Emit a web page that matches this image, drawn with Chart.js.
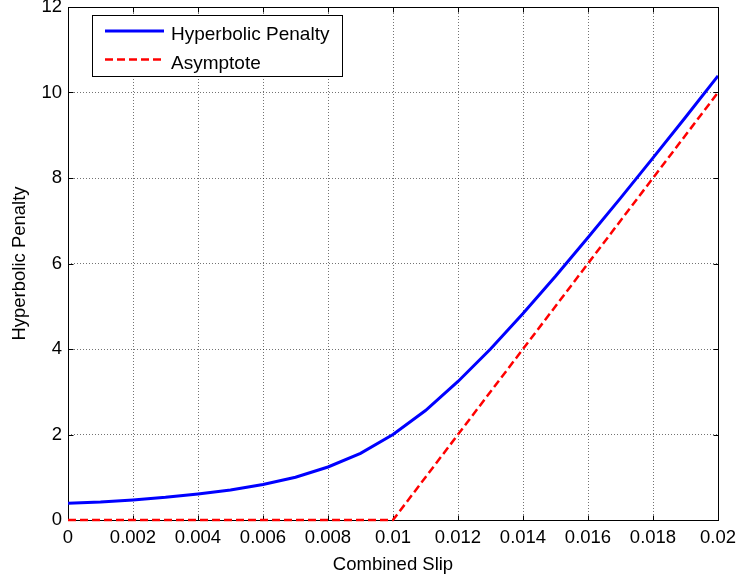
<!DOCTYPE html>
<html>
<head>
<meta charset="utf-8">
<title>Hyperbolic Penalty</title>
<script src="https://cdn.jsdelivr.net/npm/chart.js@4.4.1/dist/chart.umd.min.js"></script>
<style>
  html, body { margin: 0; padding: 0; background: #fff; }
  canvas { display: block; }
</style>
</head>
<body>
<canvas id="chart" width="738" height="579"></canvas>
<script>
// combined slip samples and the penalty curve
const slip = [0, 0.001, 0.002, 0.003, 0.004, 0.005, 0.006, 0.007, 0.008, 0.009, 0.01,
              0.011, 0.012, 0.013, 0.014, 0.015, 0.016, 0.017, 0.018, 0.019, 0.02]
const penalty = [0.39, 0.42, 0.47, 0.53, 0.61, 0.70, 0.83, 1.00, 1.24, 1.56, 2.00,
                 2.56, 3.24, 4.00, 4.83, 5.70, 6.61, 7.53, 8.47, 9.42, 10.39]

// asymptote: zero up to the threshold, then linear
const asymptoteSlip = [0, 0.01, 0.02]
const asymptote = [0, 0, 10]

const xTickLabels = ['0', '0.002', '0.004', '0.006', '0.008', '0.01',
                     '0.012', '0.014', '0.016', '0.018', '0.02']
const yTickLabels = ['0', '2', '4', '6', '8', '10', '12']

const FONT = "Arial, 'Liberation Sans', sans-serif"
Chart.defaults.font.family = FONT
Chart.defaults.color = '#000'

// box around the axes with inward tick marks on all four sides
const frame = {
  id: 'frame',
  beforeDatasetsDraw(chart) {
    const { ctx, chartArea: a, scales } = chart
    const L = Math.round(a.left) + 0.5, R = Math.round(a.right) + 0.5
    const T = Math.round(a.top) + 0.5, B = Math.round(a.bottom) + 0.5
    const len = 5
    ctx.save()
    ctx.strokeStyle = '#000'
    ctx.lineWidth = 1
    ctx.strokeRect(L, T, R - L, B - T)
    ctx.beginPath()
    scales.x.ticks.forEach(t => {
      const px = Math.round(scales.x.getPixelForValue(t.value)) + 0.5
      ctx.moveTo(px, B); ctx.lineTo(px, B - len)
      ctx.moveTo(px, T); ctx.lineTo(px, T + len)
    })
    scales.y.ticks.forEach(t => {
      const py = Math.round(scales.y.getPixelForValue(t.value)) + 0.5
      ctx.moveTo(L, py); ctx.lineTo(L + len, py)
      ctx.moveTo(R, py); ctx.lineTo(R - len, py)
    })
    ctx.stroke()
    ctx.restore()
  }
}

// legend box in the upper left corner of the plot
const insetLegend = {
  id: 'insetLegend',
  afterDatasetsDraw(chart) {
    const { ctx } = chart
    const box = { x: 92.5, y: 15.5, w: 250, h: 61 }
    ctx.save()
    ctx.fillStyle = '#fff'
    ctx.fillRect(box.x, box.y, box.w, box.h)
    ctx.strokeStyle = '#000'
    ctx.lineWidth = 1
    ctx.strokeRect(box.x, box.y, box.w, box.h)
    const rows = [31, 59.5]
    chart.data.datasets.forEach((ds, i) => {
      const y = rows[i]
      ctx.beginPath()
      ctx.strokeStyle = ds.borderColor
      ctx.lineWidth = ds.borderWidth
      ctx.setLineDash(ds.borderDash || [])
      ctx.moveTo(105, y)
      ctx.lineTo(164, y)
      ctx.stroke()
      ctx.setLineDash([])
      ctx.fillStyle = '#000'
      ctx.font = '19px ' + FONT
      ctx.textBaseline = 'alphabetic'
      ctx.textAlign = 'left'
      ctx.fillText(ds.label, 171, y + 9)
    })
    ctx.restore()
  }
}

new Chart(document.getElementById('chart'), {
  type: 'line',
  data: {
    datasets: [
      {
        label: 'Hyperbolic Penalty',
        data: slip.map((s, i) => ({ x: s, y: penalty[i] })),
        borderColor: '#0000ff',
        borderWidth: 3,
        pointRadius: 0,
        tension: 0,
        fill: false
      },
      {
        label: 'Asymptote',
        data: asymptoteSlip.map((s, i) => ({ x: s, y: asymptote[i] })),
        borderColor: '#ff0000',
        borderWidth: 2.5,
        borderDash: [8, 4],
        pointRadius: 0,
        tension: 0,
        fill: false,
        clip: false
      }
    ]
  },
  options: {
    responsive: false,
    animation: false,
    devicePixelRatio: 1,
    layout: { padding: { left: 0, top: 7, right: 20, bottom: 0 } },
    plugins: {
      legend: { display: false },
      tooltip: { enabled: false }
    },
    scales: {
      x: {
        type: 'linear',
        min: 0,
        max: 0.02,
        afterBuildTicks(scale) {
          scale.ticks = xTickLabels.map((_, i) => ({ value: i * 0.002 }))
        },
        afterFit(scale) {
          scale.height = 59
          scale.paddingLeft = 0
          scale.paddingRight = 0
        },
        grid: { color: 'rgba(0,0,0,0.55)', lineWidth: 1, drawTicks: false },
        border: { display: false, dash: [1, 2] },
        ticks: {
          padding: 7,
          maxRotation: 0,
          autoSkip: false,
          font: { size: 18.5 },
          callback: (v, i) => xTickLabels[i]
        },
        title: {
          display: true,
          text: 'Combined Slip',
          font: { size: 18.5 },
          padding: { top: 0, bottom: 2.6 }
        }
      },
      y: {
        min: 0,
        max: 12,
        afterBuildTicks(scale) {
          scale.ticks = yTickLabels.map(l => ({ value: Number(l) }))
        },
        afterFit(scale) {
          scale.width = 68
          scale.paddingTop = 0
          scale.paddingBottom = 0
        },
        grid: { color: 'rgba(0,0,0,0.55)', lineWidth: 1, drawTicks: false },
        border: { display: false, dash: [1, 2] },
        ticks: {
          padding: 6,
          font: { size: 18.5 },
          callback: (v, i) => yTickLabels[i]
        },
        title: {
          display: true,
          text: 'Hyperbolic Penalty',
          font: { size: 18.5 },
          padding: { top: 8.6, bottom: 0 }
        }
      }
    }
  },
  plugins: [frame, insetLegend]
})
</script>
</body>
</html>
